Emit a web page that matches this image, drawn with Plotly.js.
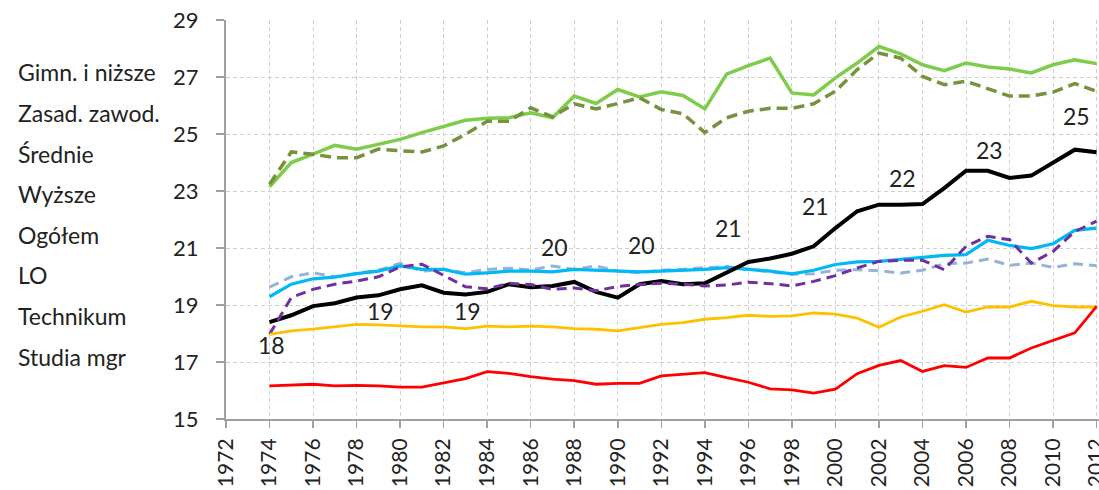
<!DOCTYPE html>
<html>
<head>
<meta charset="utf-8">
<script src="https://cdn.plot.ly/plotly-3.0.1.min.js"></script>
<style>html,body{margin:0;padding:0;background:#fff;}#chart{width:1099px;height:490px;}</style>
</head>
<body>
<div id="chart"></div>
<script>
// ---- data ----
const years = [1974,1975,1976,1977,1978,1979,1980,1981,1982,1983,1984,1985,1986,1987,1988,1989,1990,1991,1992,1993,1994,1995,1996,1997,1998,1999,2000,2001,2002,2003,2004,2005,2006,2007,2008,2009,2010,2011,2012];

const seriesNames = ["Gimn. i niższe","Zasad. zawod.","Średnie","Wyższe","Ogółem","LO","Technikum","Studia mgr"];

const gimn = [23.15,24.0,24.29,24.6,24.47,24.64,24.81,25.05,25.28,25.48,25.55,25.57,25.74,
              25.57,26.33,26.07,26.56,26.3,26.48,26.35,25.88,27.1,27.4,27.66,26.44,
              26.37,26.97,27.49,28.07,27.81,27.43,27.22,27.49,27.35,27.28,27.14,27.43,27.6,27.47];
const zasad = [23.24,24.37,24.29,24.17,24.17,24.47,24.41,24.37,24.58,24.99,25.45,25.45,25.92,
               25.6,26.06,25.88,26.07,26.27,25.86,25.71,25.05,25.57,25.8,25.9,25.9,
               26.06,26.5,27.26,27.84,27.66,27.02,26.73,26.85,26.59,26.33,26.33,26.47,26.77,26.5];
const srednie = [19.63,19.99,20.13,19.99,20.11,20.22,20.46,20.19,20.25,20.13,20.25,20.29,20.23,
                 20.37,20.25,20.37,20.19,20.13,20.22,20.25,20.31,20.35,20.25,20.16,20.08,
                 20.1,20.22,20.24,20.2,20.12,20.22,20.45,20.47,20.61,20.39,20.47,20.32,20.45,20.38];
const wyzsze = [19.29,19.73,19.92,19.98,20.1,20.19,20.37,20.25,20.25,20.08,20.13,20.19,20.19,
                20.16,20.25,20.22,20.19,20.16,20.19,20.22,20.25,20.31,20.25,20.19,20.09,
                20.22,20.42,20.51,20.53,20.61,20.67,20.74,20.77,21.27,21.09,20.98,21.15,21.62,21.7];
const ogolem = [18.4,18.64,18.96,19.06,19.26,19.34,19.55,19.69,19.43,19.37,19.46,19.73,19.62,
                19.67,19.81,19.46,19.26,19.73,19.84,19.73,19.76,20.13,20.51,20.63,20.8,
                21.06,21.7,22.29,22.52,22.52,22.54,23.1,23.71,23.71,23.46,23.54,23.98,24.45,24.36];
const lo = [17.97,19.26,19.55,19.73,19.84,19.99,20.34,20.43,20.04,19.64,19.57,19.76,19.72,
            19.55,19.6,19.5,19.65,19.72,19.76,19.73,19.67,19.7,19.8,19.75,19.67,
            19.83,20.03,20.3,20.53,20.57,20.57,20.24,21.06,21.41,21.29,20.47,20.88,21.58,21.94];
const technikum = [17.97,18.09,18.15,18.24,18.32,18.3,18.26,18.23,18.23,18.17,18.26,18.23,18.26,
                   18.23,18.17,18.15,18.09,18.2,18.32,18.38,18.5,18.56,18.64,18.6,18.62,
                   18.72,18.68,18.54,18.22,18.58,18.78,19.01,18.75,18.93,18.93,19.13,18.98,18.93,18.93];
const studiaMgr = [16.16,16.19,16.22,16.16,16.18,16.16,16.12,16.12,16.27,16.42,16.66,16.6,16.49,
                   16.4,16.35,16.22,16.25,16.25,16.51,16.57,16.63,16.45,16.29,16.06,16.02,
                   15.91,16.05,16.59,16.88,17.05,16.67,16.87,16.81,17.14,17.14,17.49,17.76,18.02,18.95];

const labelYears = [1974,1979,1983,1987,1991,1995,1999,2003,2007,2011];
const labelTexts = ["18","19","19","20","20","21","21","22","23","25"];

const tickYears = [1972,1974,1976,1978,1980,1982,1984,1986,1988,1990,1992,1994,1996,1998,2000,2002,2004,2006,2008,2010,2012];
const yTicks = [15,17,19,21,23,25,27,29];

// ---- styles ----
const allSeries = [gimn, zasad, srednie, wyzsze, ogolem, lo, technikum, studiaMgr];
const styles = [
  {color:"#7dcc4a", width:3.5, dash:"solid"},
  {color:"#76923c", width:3.5, dash:"11px,6px"},
  {color:"#95b3d7", width:3,   dash:"10px,6px"},
  {color:"#00b8f5", width:3.2, dash:"solid"},
  {color:"#000000", width:4,   dash:"solid"},
  {color:"#7030a0", width:3,   dash:"10px,6px"},
  {color:"#ffc000", width:2.8, dash:"solid"},
  {color:"#ff0000", width:2.8, dash:"solid"}
];
const labelLift = [-23,-16,-17,39,39,45,40,27,21,34];

const FONT = "Lato, 'Open Sans', sans-serif";

const traces = allSeries.map((vals, i) => ({
  x: years, y: vals, type: "scatter", mode: "lines", name: seriesNames[i],
  line: {color: styles[i].color, width: styles[i].width, dash: styles[i].dash},
  hoverinfo: "skip", showlegend: false
}));

const annotations = [];
seriesNames.forEach((nm, i) => {
  annotations.push({
    text: nm, xref: "paper", yref: "paper", x: -0.241, y: 0.869 - i * 0.1018,
    xanchor: "left", yanchor: "middle", showarrow: false,
    font: {family: FONT, size: 23, color: "#222"}
  });
});
labelYears.forEach((yr, i) => {
  annotations.push({
    text: labelTexts[i], xref: "x", yref: "y", x: yr, y: ogolem[years.indexOf(yr)],
    yshift: labelLift[i], xshift: 2, showarrow: false,
    xanchor: "center", yanchor: "middle",
    font: {family: FONT, size: 23, color: "#222"}
  });
});

const layout = {
  width: 1099, height: 490,
  margin: {l: 226, r: 0, t: 20, b: 71, pad: 0},
  paper_bgcolor: "#fff", plot_bgcolor: "#fff",
  font: {family: FONT, size: 20, color: "#222"},
  showlegend: false,
  xaxis: {
    type: "linear", range: [1972, 2012.11], tickmode: "array", tickvals: tickYears,
    ticktext: tickYears.map(String), tickangle: -90,
    tickfont: {family: FONT, size: 21, color: "#222"},
    ticklabeloverflow: "allow",
    showgrid: true, gridcolor: "#d0d0d0", gridwidth: 1, griddash: "4px,3px",
    showline: true, linecolor: "#a0a0a0", linewidth: 2,
    ticks: "outside", ticklen: 7, tickcolor: "#a0a0a0", tickwidth: 1.5,
    ticklabelstandoff: 2,
    zeroline: false, fixedrange: true
  },
  yaxis: {
    range: [15, 29], tickmode: "array", tickvals: yTicks, ticktext: yTicks.map(String),
    tickfont: {family: FONT, size: 22, color: "#222"},
    showgrid: true, gridcolor: "#d0d0d0", gridwidth: 1, griddash: "4px,3px",
    showline: true, linecolor: "#a0a0a0", linewidth: 2,
    ticks: "outside", ticklen: 8, tickcolor: "#a0a0a0", tickwidth: 1.5,
    ticklabelstandoff: 13,
    zeroline: false, fixedrange: true
  },
  annotations: annotations
};

Plotly.newPlot("chart", traces, layout, {displayModeBar: false, staticPlot: true});
</script>
</body>
</html>
